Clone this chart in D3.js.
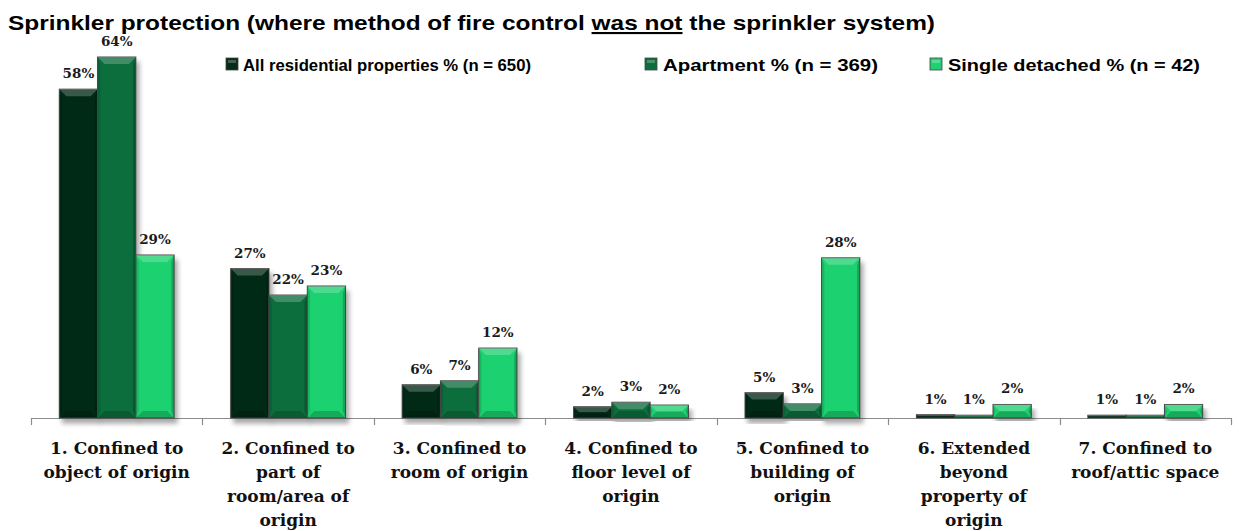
<!DOCTYPE html>
<html>
<head>
<meta charset="utf-8">
<script src="https://cdn.jsdelivr.net/npm/d3@7"></script>
<style>
  body { margin: 0; background: #fff; }
  svg { display: block; }
</style>
</head>
<body>
<div id="chart"></div>
<script>
//Chart data
var categories = [
  "1. Confined to\nobject of origin",
  "2. Confined to\npart of\nroom/area of\norigin",
  "3. Confined to\nroom of origin",
  "4. Confined to\nfloor level of\norigin",
  "5. Confined to\nbuilding of\norigin",
  "6. Extended\nbeyond\nproperty of\norigin",
  "7. Confined to\nroof/attic space"
];
var seriesNames = [
  "All residential properties % (n = 650)",
  "Apartment % (n = 369)",
  "Single detached % (n = 42)"
];
var allResidential = [58.3, 26.5, 5.9, 2.0, 4.5, 0.6, 0.5];
var apartment      = [64.0, 21.8, 6.6, 2.8, 2.5, 0.5, 0.5];
var singleDetached = [28.9, 23.4, 12.4, 2.3, 28.4, 2.4, 2.4];
var seriesColors = ["#062b18", "#0a6e3c", "#1fd170"];

var titleText = ["Sprinkler protection (where method of fire control ", "was not", " the sprinkler system)"];

//Canvas
var W = 1239, H = 531;
var svg = d3.select("#chart").append("svg")
  .attr("width", W).attr("height", H);

var defs = svg.append("defs");
//soft shadow behind the bars
var shadow = defs.append("filter").attr("id", "bar-shadow")
  .attr("x", "-30%").attr("y", "-10%").attr("width", "160%").attr("height", "130%");
shadow.append("feGaussianBlur").attr("in", "SourceAlpha").attr("stdDeviation", 2.5).attr("result", "blur");
shadow.append("feOffset").attr("in", "blur").attr("dx", 3).attr("dy", 5).attr("result", "off");
shadow.append("feComponentTransfer").attr("in", "off").attr("result", "soft")
  .append("feFuncA").attr("type", "linear").attr("slope", 0.35);
var merge = shadow.append("feMerge");
merge.append("feMergeNode").attr("in", "soft");
merge.append("feMergeNode").attr("in", "SourceGraphic");

//Scales
var baseY = 418;
var x0 = d3.scaleBand().domain(categories).range([31, 1231])
  .paddingInner(0.33).paddingOuter(0.165);
var x1 = d3.scaleBand().domain(d3.range(seriesNames.length)).range([0, x0.bandwidth()]);
var allSeries = [allResidential, apartment, singleDetached];
var y = d3.scaleLinear().domain([0, d3.max(allSeries, function(s) { return d3.max(s); })])
  .range([baseY, 57]);

//Title
var title = svg.append("text")
  .attr("x", 8).attr("y", 30)
  .style("font-family", "'Liberation Sans', Arial, sans-serif")
  .style("font-weight", "bold").style("font-size", "21px").attr("fill", "#000");
titleText.forEach(function(t, i) {
  var ts = title.append("tspan").text(t);
  if (i === 1) ts.style("text-decoration", "underline");
});
title.attr("textLength", 927).attr("lengthAdjust", "spacingAndGlyphs");

//Legend
var legendX = [226, 645, 930], legendTextX = [243, 663, 948], legendW = [288, 215, 252];
var legend = svg.append("g").attr("class", "legend");
seriesNames.forEach(function(name, i) {
  var g = legend.append("g").attr("transform", "translate(" + legendX[i] + ",58)");
  g.append("rect").attr("width", 12).attr("height", 12)
    .attr("fill", seriesColors[i]).attr("stroke", "#444").attr("stroke-width", 0.8);
  g.append("rect").attr("x", 2).attr("y", 2).attr("width", 8).attr("height", 3)
    .attr("fill", "#fff").attr("opacity", 0.25);
  g.append("text").attr("x", legendTextX[i] - legendX[i]).attr("y", 13)
    .style("font-family", "'Liberation Sans', Arial, sans-serif")
    .style("font-weight", "bold").style("font-size", "17px")
    .attr("textLength", legendW[i]).attr("lengthAdjust", "spacingAndGlyphs")
    .text(name);
});

//Axis line and category ticks
var axis = svg.append("g").attr("class", "x-axis");
axis.append("line").attr("x1", x0.range()[0]).attr("x2", x0.range()[1])
  .attr("y1", baseY + 0.5).attr("y2", baseY + 0.5)
  .attr("stroke", "#8c8c8c").attr("stroke-width", 1.2);
d3.range(categories.length + 1).forEach(function(i) {
  var tx = Math.round(x0.range()[0] + i * x0.step()) + 0.5;
  axis.append("line").attr("x1", tx).attr("x2", tx)
    .attr("y1", baseY).attr("y2", baseY + 7)
    .attr("stroke", "#8c8c8c").attr("stroke-width", 1.2);
});

//Bars
var groups = svg.append("g").attr("class", "bars")
  .selectAll("g").data(categories).enter().append("g")
  .attr("transform", function(d) { return "translate(" + x0(d) + ",0)"; });

groups.each(function(cat, ci) {
  var g = d3.select(this);
  allSeries.forEach(function(s, si) {
    var v = s[ci];
    var bx = x1(si), bw = x1.bandwidth(), by = y(v), bh = baseY - by;
    var bar = g.append("g").attr("class", "bar");
    bar.append("rect")
      .attr("x", bx).attr("y", by).attr("width", bw).attr("height", bh)
      .attr("fill", seriesColors[si])
      .attr("stroke", "#4a4a4a").attr("stroke-width", 1)
      .attr("filter", "url(#bar-shadow)");
    var b = Math.min(7, bh / 2);
    //top bevel (light)
    bar.append("polygon")
      .attr("points", [[bx, by], [bx + bw, by], [bx + bw - b, by + b], [bx + b, by + b]].join(" "))
      .attr("fill", "#fff").attr("opacity", 0.22);
    //bottom bevel (dark)
    bar.append("polygon")
      .attr("points", [[bx, baseY], [bx + bw, baseY], [bx + bw - b, baseY - b], [bx + b, baseY - b]].join(" "))
      .attr("fill", "#000").attr("opacity", 0.18);
    //side bevels
    bar.append("polygon")
      .attr("points", [[bx, by], [bx + b * 0.4, by + b], [bx + b * 0.4, baseY - b], [bx, baseY]].join(" "))
      .attr("fill", "#000").attr("opacity", 0.12);
    bar.append("polygon")
      .attr("points", [[bx + bw, by], [bx + bw - b * 0.4, by + b], [bx + bw - b * 0.4, baseY - b], [bx + bw, baseY]].join(" "))
      .attr("fill", "#000").attr("opacity", 0.2);
    //value label
    g.append("text")
      .attr("x", bx + bw / 2).attr("y", by - 11)
      .attr("text-anchor", "middle")
      .style("font-family", "'DejaVu Serif', 'Liberation Serif', serif")
      .style("font-weight", "bold").style("font-size", "13.5px")
      .attr("fill", "#1a1a1a")
      .text(Math.round(v) + "%");
  });
});

//Category labels
var labels = svg.append("g").attr("class", "cat-labels");
categories.forEach(function(cat) {
  var t = labels.append("text")
    .attr("text-anchor", "middle")
    .style("font-family", "'DejaVu Serif', 'Liberation Serif', serif")
    .style("font-weight", "bold").style("font-size", "17px")
    .attr("fill", "#111");
  cat.split("\n").forEach(function(line, li) {
    t.append("tspan")
      .attr("x", x0(cat) + x0.bandwidth() / 2)
      .attr("y", 454 + li * 24)
      .text(line);
  });
});
</script>
</body>
</html>
